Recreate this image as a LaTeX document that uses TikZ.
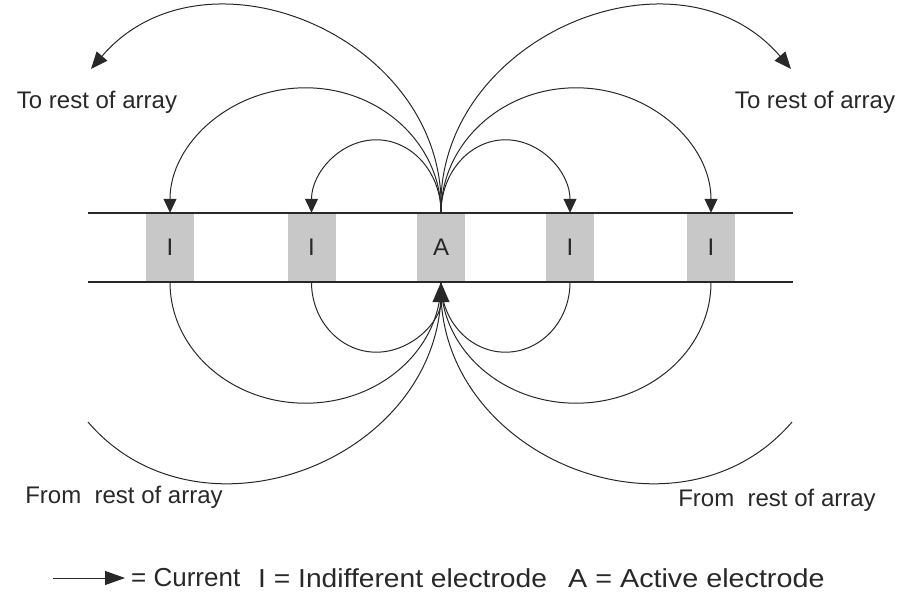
\documentclass[tikz,border=0pt]{standalone}
\usepackage{fontspec}
\setmainfont{Liberation Sans}
\usetikzlibrary{arrows.meta}
\definecolor{boxgray}{RGB}{200,200,200}
\definecolor{ink}{RGB}{40,40,40}
\begin{document}
\begin{tikzpicture}[x=1pt,y=1pt,
  electrode/.style={rectangle, fill=boxgray, draw=none, minimum width=48pt, minimum height=69pt, inner sep=0pt, text=ink, font=\fontsize{24}{28}\selectfont},
  stripe/.style={draw=ink, line width=1.1pt},
  cur/.style={draw=ink, line width=1pt},
  tipdown/.style={-{Triangle[width=13pt,length=14pt]}},
  tipout/.style={-{Triangle[width=14pt,length=17pt]}},
  tipup/.style={-{Triangle[width=17pt,length=20pt]}},
  lbl/.style={text=ink, font=\fontsize{24}{28}\selectfont, inner sep=0pt},
  leg/.style={text=ink, font=\fontsize{26}{30}\selectfont, inner sep=0pt, anchor=west}]
\useasboundingbox (0,0) rectangle (907,595);
% electrodes
\node[electrode] (e1) at (170,347.5) {I};
\node[electrode] (e2) at (311.5,347.5) {I};
\node[electrode] (A)  at (441,347.5) {A};
\node[electrode] (e4) at (570,347.5) {I};
\node[electrode] (e5) at (711,347.5) {I};
% stripe lines
\coordinate (tL) at (88,382); \coordinate (tR) at (793,382);
\coordinate (bL) at (88,313); \coordinate (bR) at (793,313);
\draw[stripe] (tL) -- (tR);
\draw[stripe] (bL) -- (bR);
% free ends of outer arcs
\coordinate (tl) at (91,526);
\coordinate (tr) at (791,526);
\coordinate (bl) at (88,173);
\coordinate (br) at (792,173);
% top arcs
\draw[cur,tipdown] (A.north) arc[start angle=0, end angle=180, x radius=64.75, y radius=73];
\draw[cur,tipdown] (A.north) arc[start angle=0, end angle=180, x radius=135.5, y radius=125];
\draw[cur,tipdown] (A.north) arc[start angle=180, end angle=0, x radius=64.5, y radius=73];
\draw[cur,tipdown] (A.north) arc[start angle=180, end angle=0, x radius=135, y radius=125];
\draw[cur,tipout] (A.north) .. controls +(7,175) and +(114,133) .. (tl);
\draw[cur,tipout] (A.north) .. controls +(-7,175) and +(-114,133) .. (tr);
% bottom arcs
\draw[cur] (e1.south) arc[start angle=180, end angle=360, x radius=135.5, y radius=121];
\draw[cur] (e5.south) arc[start angle=0, end angle=-180, x radius=135, y radius=121];
\draw[cur] (e4.south) arc[start angle=0, end angle=-180, x radius=64.5, y radius=70];
\draw[cur] (bl) .. controls +(114,-133) and +(7,-175) .. (A.south);
\draw[cur] (br) .. controls +(-114,-133) and +(-7,-175) .. (A.south);
\draw[cur,tipup] (e2.south) arc[start angle=180, end angle=360, x radius=64.75, y radius=70];
% labels
\node[lbl] (tol) at (97,493) {To rest of array};
\node[lbl] (tor) at (815,493) {To rest of array};
\node[lbl] (frl) at (124,98) {From~~rest of array};
\node[lbl] (frr) at (777,95) {From~~rest of array};
% legend
\coordinate (la) at (53,17);
\coordinate (lb) at (125,17);
\draw[cur,-{Triangle[width=14pt,length=20pt]}] (la) -- (lb);
\node[leg] (l1) at (131,17) {= Current};
\node[leg] (l2) at (258,17) {\scalebox{1.085}[1]{I = Indifferent electrode}};
\node[leg] (l3) at (568,17) {\scalebox{1.105}[1]{A = Active electrode}};
\end{tikzpicture}
\end{document}
